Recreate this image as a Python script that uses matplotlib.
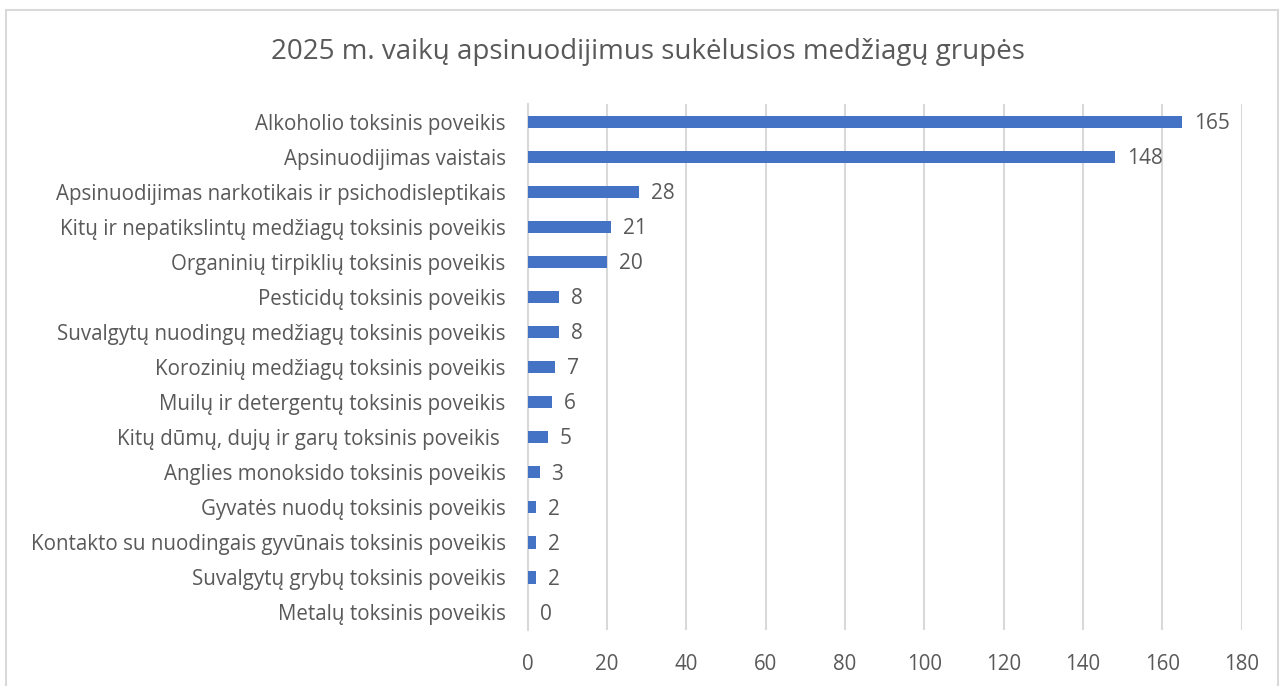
import matplotlib.pyplot as plt
from matplotlib.patches import Rectangle

categories = [
    "Alkoholio toksinis poveikis",
    "Apsinuodijimas vaistais",
    "Apsinuodijimas narkotikais ir psichodisleptikais",
    "Kitų ir nepatikslintų medžiagų toksinis poveikis",
    "Organinių tirpiklių toksinis poveikis",
    "Pesticidų toksinis poveikis",
    "Suvalgytų nuodingų medžiagų toksinis poveikis",
    "Korozinių medžiagų toksinis poveikis",
    "Muilų ir detergentų toksinis poveikis",
    "Kitų dūmų, dujų ir garų toksinis poveikis ",
    "Anglies monoksido toksinis poveikis",
    "Gyvatės nuodų toksinis poveikis",
    "Kontakto su nuodingais gyvūnais toksinis poveikis",
    "Suvalgytų grybų toksinis poveikis",
    "Metalų toksinis poveikis",
]
values = [165, 148, 28, 21, 20, 8, 8, 7, 6, 5, 3, 2, 2, 2, 0]
xticks = [0, 20, 40, 60, 80, 100, 120, 140, 160, 180]

TEXT = "#595959"
BAR = "#4472C4"
GRID = "#D9D9D9"

plt.rcParams["font.family"] = ["Open Sans", "DejaVu Sans"]

fig = plt.figure(figsize=(12.84, 6.86), dpi=100)
fig.patches.append(Rectangle((0.005, -0.01), 0.99, 0.995, transform=fig.transFigure,
                             fill=False, edgecolor="#D9D9D9", linewidth=1.5))

ax = fig.add_axes([0.411, 0.0816, 0.556, 0.7664])
y = list(range(len(categories)))
ax.barh(y, values, height=0.35, color=BAR, zorder=3)

# value labels to the right of each bar
for yi, v in zip(y, values):
    ax.text(v + 3.0, yi + 0.05, str(v), va="center", ha="left", fontsize=15, color=TEXT)

ax.set_xlim(0, 180)
ax.set_ylim(len(categories) - 0.5, -0.5)
ax.set_xticks(xticks)
ax.set_yticks(y)
ax.set_yticklabels(categories)
ax.tick_params(axis="both", length=0, labelsize=14.8, labelcolor=TEXT)
ax.tick_params(axis="x", pad=17)
ax.tick_params(axis="y", pad=16)
ax.grid(axis="x", color=GRID, linewidth=1.5, zorder=0)
for s in ["top", "right", "bottom"]:
    ax.spines[s].set_visible(False)
ax.spines["left"].set_color(GRID)
ax.spines["left"].set_linewidth(1.5)

fig.text(0.505, 0.924, "2025 m. vaikų apsinuodijimus sukėlusios medžiagų grupės",
         ha="center", va="center", fontsize=20, color=TEXT)

fig.savefig("out.png", dpi=100, facecolor="white")
